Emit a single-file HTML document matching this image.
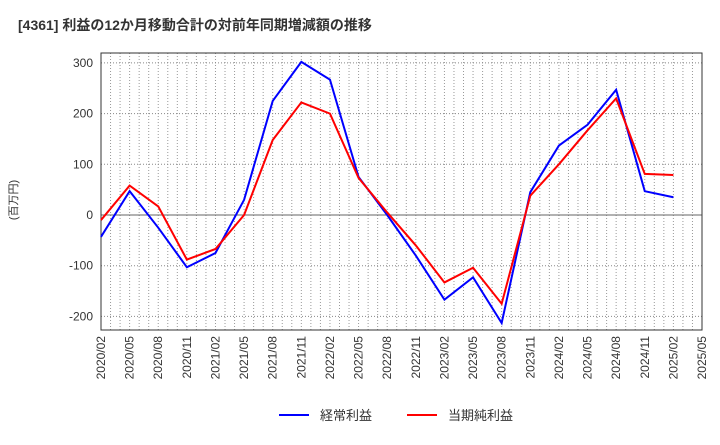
<!DOCTYPE html>
<html><head><meta charset="utf-8"><style>
body{margin:0;background:#fff;font-family:"Liberation Sans","Noto Sans CJK JP",sans-serif;}
</style></head><body>
<svg id="c" width="720" height="440" xmlns="http://www.w3.org/2000/svg">
<text x="18" y="30" font-size="14" font-weight="bold" fill="#333">[4361]  利益の12か月移動合計の対前年同期増減額の推移</text>
<text transform="translate(17,200) rotate(-90)" font-size="11" fill="#333" text-anchor="middle">(百万円)</text>
<g id="grid"></g><g id="axes"></g><g id="series"></g>
<g>
<line x1="279" y1="415" x2="309" y2="415" stroke="#0000ff" stroke-width="2"/>
<text x="320" y="420" font-size="13" fill="#333">経常利益</text>
<line x1="407" y1="415" x2="437" y2="415" stroke="#ff0000" stroke-width="2"/>
<text x="448" y="420" font-size="13" fill="#333">当期純利益</text>
</g>
</svg>
<script>
const xLabels=["2020/02","2020/05","2020/08","2020/11","2021/02","2021/05","2021/08","2021/11","2022/02","2022/05","2022/08","2022/11","2023/02","2023/05","2023/08","2023/11","2024/02","2024/05","2024/08","2024/11","2025/02","2025/05"];
const yTicks=[-200,-100,0,100,200,300];
const keijo=[-43,47,-25,-103,-75,30,225,302,267,75,0,-80,-167,-123,-213,45,137,178,247,47,35];
const junri=[-10,58,17,-88,-67,0,148,222,200,73,5,-60,-133,-104,-175,38,100,167,230,81,79];
const L=101,R=702,T=53,B=330;
const xs=i=>L+(R-L)*i/21;
const ys=v=>215-v*0.507;
const NS="http://www.w3.org/2000/svg";
function mk(p,t,a){const e=document.createElementNS(NS,t);for(const k in a)e.setAttribute(k,a[k]);p.appendChild(e);return e;}
const g=document.getElementById('grid'),ax=document.getElementById('axes'),s=document.getElementById('series');
for(let m=1;m<63;m++){const x=L+(R-L)*m/63;
const l=mk(g,'line',{x1:x,y1:T,x2:x,y2:B,stroke:'#999','stroke-dasharray':'1,2','stroke-width':1});

}
yTicks.forEach(v=>{const y=ys(v);
const l=mk(g,'line',{x1:L,y1:y,x2:R,y2:y,stroke:v===0?'#666':'#888','stroke-dasharray':v===0?'none':'1,2','stroke-width':1});


const t=mk(ax,'text',{x:L-8,y:y+4,'font-size':12,fill:'#333','text-anchor':'end'});t.textContent=v;

});
const fr=mk(ax,'rect',{x:L,y:T,width:R-L,height:B-T,fill:'none',stroke:'#333','stroke-width':1});


xLabels.forEach((lb,i)=>{const x=xs(i);
const t=mk(ax,'text',{transform:`translate(${x+4},${B+6}) rotate(-90)`,'font-size':12,fill:'#333','text-anchor':'end'});t.textContent=lb;

});
function line(d,c,n){const p=mk(s,'polyline',{points:d.map((v,i)=>xs(i)+','+ys(v)).join(' '),fill:'none',stroke:c,'stroke-width':2});

}
line(keijo,'#0000ff','keijo-line');
line(junri,'#ff0000','junri-line');
</script>
</body></html>
